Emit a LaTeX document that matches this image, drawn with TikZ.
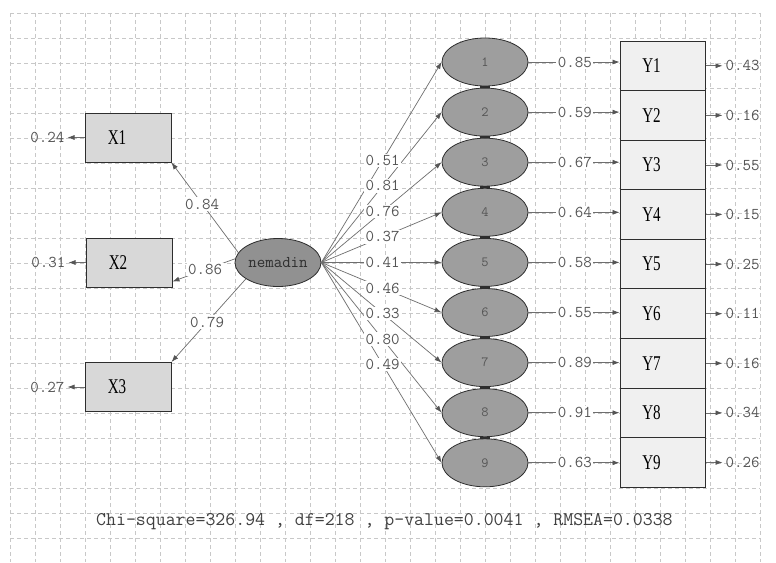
\documentclass[tikz,border=0pt]{standalone}
\usepackage{fontspec}
\usepackage{graphicx}
\setmainfont{Liberation Serif}
\newcommand{\monofam}{\ttfamily}
\usetikzlibrary{arrows.meta,calc,shapes.geometric}
\definecolor{gridc}{HTML}{C8C8C8}
\definecolor{linec}{HTML}{6E6E6E}
\definecolor{tipc}{HTML}{555555}
\definecolor{txtc}{HTML}{555555}
\definecolor{ellc}{HTML}{9E9E9E}
\definecolor{xboxc}{HTML}{D8D8D8}
\definecolor{yboxc}{HTML}{F0F0F0}
\definecolor{edgec}{HTML}{2E2E2E}
\newcommand{\obslabel}[1]{\scalebox{0.72}[1]{#1}\hspace*{22pt}}
\tikzset{
  gridline/.style={draw=gridc, line width=0.6pt, dash pattern=on 4pt off 3pt},
  latent/.style={ellipse, draw=edgec, line width=0.8pt, fill=ellc, minimum width=86pt, minimum height=48pt, inner sep=0pt, text=txtc, font=\monofam\fontsize{14}{14}\selectfont},
  obsx/.style={rectangle, draw=edgec, line width=1pt, fill=xboxc, minimum width=86pt, minimum height=49pt, inner sep=0pt, font=\fontsize{21}{21}\selectfont},
  obsy/.style={rectangle, draw=edgec, line width=1pt, fill=yboxc, minimum width=85pt, minimum height=49.6pt, inner sep=0pt, font=\fontsize{21}{21}\selectfont},
  conn/.style={draw=linec, line width=0.7pt, -{Latex[length=7pt,width=5pt,color=tipc]}},
  coef/.style={font=\monofam\fontsize{16.5}{16.5}\selectfont, text=txtc, fill=white, inner sep=1.5pt},
  errlab/.style={font=\monofam\fontsize{16.5}{16.5}\selectfont, text=txtc, inner sep=0pt},
  chi/.style={font=\monofam\fontsize{19.3}{19.3}\selectfont, text=black!75, inner sep=0pt}
}
\begin{document}
\begin{tikzpicture}[x=1pt,y=-1pt]
\useasboundingbox (0,0) rectangle (776,562);
\fill[white] (0,0) rectangle (776,562);
% grid
\foreach \k in {0,...,30} \draw[gridline] ({10+25*\k},13) -- ({10+25*\k},562);
\foreach \k in {0,...,21} \draw[gridline] (10,{13+25*\k}) -- (760,{13+25*\k});

% latent variable
\node[latent, fill=ellc!92!black, text=edgec, font=\monofam\fontsize{16.5}{16.5}\selectfont] (N) at (278,262.5) {nemadin};

% observed X
\node[obsx] (X1) at (128,137.5) {\obslabel{X1}};
\node[obsx] (X2) at (129,262.5) {\obslabel{X2}};
\node[obsx] (X3) at (128,387) {\obslabel{X3}};

% first-order latents and Y boxes
\foreach \i in {1,...,9} {
  \node[latent] (E\i) at (485,{62+50.1*(\i-1)}) {\i};
  \node[obsy] (Y\i) at (662.5,{65.8+49.58*(\i-1)}) {\obslabel{Y\i}};
}
\foreach \i in {1,...,8} {
  \pgfmathtruncatemacro{\j}{\i+1}
  \fill[edgec] ($(E\i.south)+(-5,-0.5)$) rectangle ($(E\j.north)+(5,0.5)$);
}

% X loadings
\draw[conn] (N.166) -- (X1.south east);
\draw[conn] (N.175) -- ($(X2.south east)+(0,-6)$);
\draw[conn] (N.207) -- (X3.north east);
\path (N.166) -- node[coef,pos=0.54]{0.84} (X1.south east);
\path (N.175) -- node[coef,pos=0.48]{0.86} ($(X2.south east)+(0,-6)$);
\path (N.207) -- node[coef,pos=0.52]{0.79} (X3.north east);

% X errors
\foreach \x/\v in {1/0.24,2/0.31,3/0.27} {
  \draw[conn] (X\x.west) -- ++(-17,0) coordinate (ex\x);
  \node[errlab, anchor=east] (elx\x) at ($(ex\x)+(-3,0)$) {\v};
}

% second-order loadings
\foreach \i in {1,...,9} \draw[conn] (N.east) -- (E\i.west);
\foreach \i/\v in {1/0.51,2/0.81,3/0.76,4/0.37,5/0.41,6/0.46,7/0.33,8/0.80,9/0.49}
  \path (N.east) -- node[coef,pos=0.51]{\v} (E\i.west);

% first-order loadings to Y
\foreach \i/\v in {1/0.85,2/0.59,3/0.67,4/0.64,5/0.58,6/0.55,7/0.89,8/0.91,9/0.63} {
  \draw[conn] (E\i.east) -- node[coef,pos=0.51]{\v} (E\i.east -| Y\i.west);
}

% Y errors
\foreach \i/\v in {1/0.43,2/0.16,3/0.55,4/0.15,5/0.25,6/0.11,7/0.16,8/0.34,9/0.26} {
  \draw[conn] (Y\i.east) -- ++(17,0) coordinate (ey\i);
  \node[errlab, anchor=west] (ely\i) at ($(ey\i)+(3,0)$) {\v};
}

% fit statistics
\node[chi, anchor=west] (fit) at (96,522) {Chi-square=326.94 , df=218 , p-value=0.0041 , RMSEA=0.0338};
\end{tikzpicture}
\end{document}
